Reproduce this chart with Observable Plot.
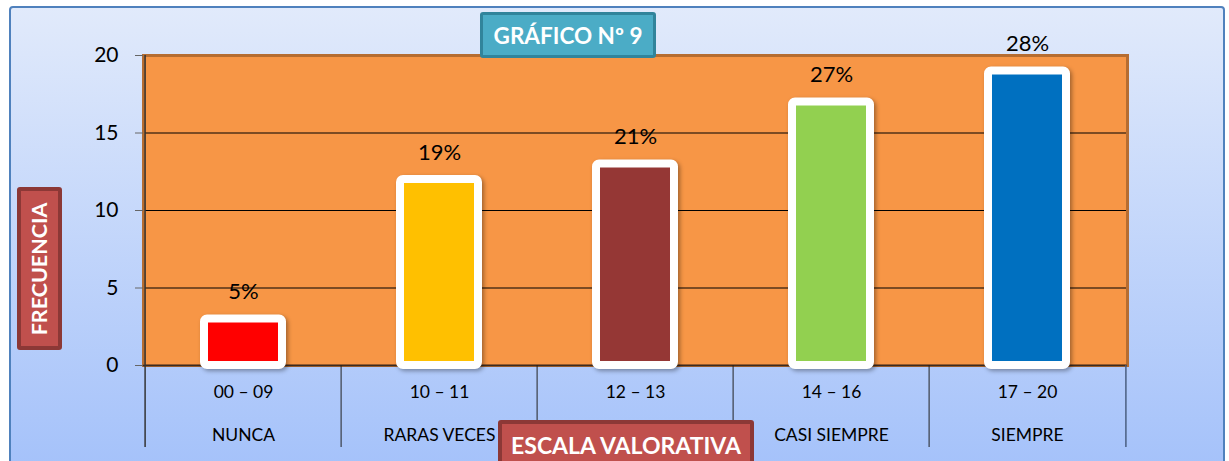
<!DOCTYPE html>
<html><head><meta charset="utf-8">
<script src="https://cdn.jsdelivr.net/npm/d3@7"></script>
<script src="https://cdn.jsdelivr.net/npm/@observablehq/plot@0.6"></script>
<style>
body{margin:0;background:#fff;font-family:Lato,sans-serif}
#wrap{position:relative;width:1229px;height:461px;overflow:hidden}
#bg{position:absolute;left:9px;top:6px;width:1212px;height:480px;border:2px solid #4f81bd;border-radius:4px;background:linear-gradient(#e1eafb,#a2c0fa)}
#chart{position:absolute;left:0;top:0}
.box{position:absolute;color:#fff;font-weight:bold;display:flex;align-items:center;justify-content:center;box-sizing:border-box;border-radius:3px;font-family:Lato,sans-serif}
#title{left:480px;top:12px;width:176px;height:46px;background:#4bacc6;border:3px solid #31849b;font-size:22.5px}
#xlab{left:498px;top:420px;width:256px;height:60px;background:#c0504d;border:4px solid #8c3836;font-size:23px;align-items:flex-start;padding-top:7px}
#ylab{left:17px;top:187px;width:45px;height:163px;background:#c0504d;border:4px solid #8c3836;font-size:21.5px}
#ylab span{transform:rotate(-90deg);white-space:nowrap;display:block}
svg g[aria-label="bar"] rect{filter:drop-shadow(2px 2px 2px rgba(0,0,0,0.35))}
</style>
</head><body>
<div id="wrap">
<div id="bg"></div>
<div id="chart"></div>
<div class="box" id="title">GRÁFICO Nº 9</div>
<div class="box" id="ylab"><span>FRECUENCIA</span></div>
<div class="box" id="xlab">ESCALA VALORATIVA</div>
</div>
<script>
const categories = ["NUNCA", "RARAS VECES", "A VECES", "CASI SIEMPRE", "SIEMPRE"];
const ranges = ["00 – 09", "10 – 11", "12 – 13", "14 – 16", "17 – 20"];
const frecuencia = [3, 12, 13, 17, 19];
const porcentajes = ["5%", "19%", "21%", "27%", "28%"];
const colores = ["#ff0000", "#ffc000", "#953735", "#92d050", "#0070c0"];
const nameLabels = ["NUNCA", "RARAS VECES", "", "CASI SIEMPRE", "SIEMPRE"];

const data = categories.map((c, i) => ({cat: c, value: frecuencia[i], pct: porcentajes[i]}));

const W = 1229, H = 461, mL = 143, mR = 102, mT = 55, mB = 96;
const bw = (W - mL - mR) / categories.length;

const chart = Plot.plot({
  width: W, height: H,
  marginLeft: mL, marginRight: mR, marginTop: mT, marginBottom: mB,
  style: {background: "transparent", fontFamily: "Lato, sans-serif", overflow: "visible", color: "#000"},
  x: {domain: categories, padding: 0},
  y: {domain: [0, 20]},
  color: {type: "ordinal", domain: categories, range: colores},
  marks: [
    Plot.frame({fill: "#f79646"}),
    Plot.gridY([5, 10, 15], {stroke: "#000", strokeOpacity: 1, strokeWidth: 1}),
    Plot.frame({stroke: "#b66d31", strokeWidth: 3}),
    Plot.ruleY([0], {stroke: "#3b2b20", strokeWidth: 1.5}),
    Plot.ruleX([categories[0]], {x: d => d, dx: -bw / 2, insetBottom: -82, stroke: "#333", strokeWidth: 1.5}),
    Plot.ruleX(categories.slice(1), {x: d => d, y1: 0, y2: 0, insetBottom: -82, dx: -bw / 2, stroke: "#222", strokeWidth: 1}),
    Plot.ruleX([categories[categories.length - 1]], {x: d => d, y1: 0, y2: 0, insetBottom: -82, dx: bw / 2, stroke: "#4a5f80", strokeWidth: 1.5}),
    Plot.barY(data, {x: "cat", y: "value", fill: "cat", stroke: "#fff", strokeWidth: 8, insetLeft: 59, insetRight: 59, rx: 3}),
    Plot.text(data, {x: "cat", y: "value", text: "pct", dy: -27, fontSize: 22, fill: "#000"}),
    Plot.axisY({ticks: [0, 5, 10, 15, 20], tickSize: 8, tickPadding: 17, fontSize: 21, label: null, stroke: "#666"}),
    Plot.axisX({tickSize: 0, tickPadding: 20, fontSize: 17.5, label: null, tickFormat: d => ranges[categories.indexOf(d)]}),
    Plot.axisX({tickSize: 0, tickPadding: 63, fontSize: 17.5, label: null, tickFormat: d => nameLabels[categories.indexOf(d)]})
  ]
});
document.getElementById("chart").appendChild(chart);
</script>
</body></html>
